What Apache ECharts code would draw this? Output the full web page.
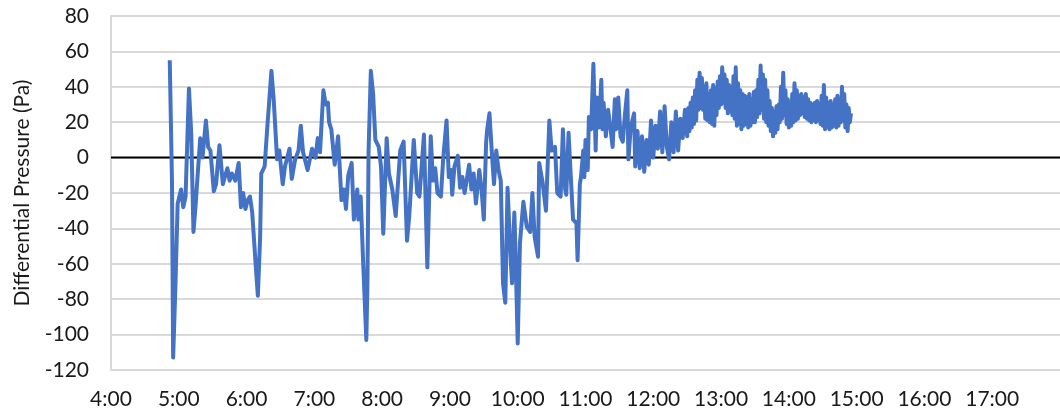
<!DOCTYPE html>
<html>
<head>
<meta charset="utf-8">
<script src="https://cdn.jsdelivr.net/npm/echarts@6/dist/echarts.min.js"></script>
<style>
  html, body { margin: 0; padding: 0; background: #fff; }
  #chart { width: 1060px; height: 419px; }
</style>
</head>
<body>
<div id="chart"></div>
<script>
// readings, time of day -> differential pressure (Pa)
const times = [
  "4:52","4:54","4:55","4:57","4:59","5:02","5:04","5:06","5:09","5:11","5:13","5:15","5:17","5:19","5:21","5:24","5:26","5:28",
  "5:31","5:33","5:36","5:39","5:43","5:45","5:47","5:50","5:53","5:55","5:57","5:59","6:01","6:03","6:05","6:08","6:10","6:12",
  "6:13","6:16","6:18","6:22","6:24","6:27","6:29","6:32","6:34","6:38","6:40","6:43","6:46","6:48","6:50","6:51","6:54","6:56",
  "6:58","7:01","7:03","7:05","7:08","7:10","7:12","7:13","7:15","7:18","7:21","7:24","7:26","7:28","7:30","7:33","7:35","7:38",
  "7:39","7:41","7:43","7:46","7:47","7:48","7:50","7:52","7:54","7:57","7:59","8:01","8:04","8:06","8:09","8:12","8:16","8:19",
  "8:22","8:24","8:28","8:31","8:33","8:35","8:37","8:40","8:43","8:45","8:47","8:49","8:52","8:54","8:57","8:59","9:01","9:02",
  "9:04","9:07","9:09","9:11","9:13","9:15","9:17","9:19","9:21","9:23","9:26","9:28","9:30","9:32","9:33","9:35","9:37","9:39",
  "9:41","9:43","9:45","9:47","9:49","9:51","9:54","9:55","9:57","9:58","10:00","10:02","10:05","10:08","10:11","10:13","10:15","10:18",
  "10:19","10:22","10:25","10:28","10:30","10:33","10:35","10:38","10:40","10:42","10:43","10:45","10:47","10:49","10:52","10:53","10:55","10:56",
  "10:58","10:59","11:00","11:02","11:03","11:05","11:07","11:09","11:10","11:12","11:14","11:15","11:16","11:18","11:20","11:22","11:24","11:26",
  "11:27","11:29","11:31","11:33","11:35","11:37","11:38","11:40","11:43","11:44","11:46","11:48","11:50","11:52","11:54","11:56","11:58","12:00",
  "12:02","12:04","12:06","12:08","12:10","12:12","12:14","12:16","12:18","12:20","12:22","12:24","12:26","12:28",
  "12:30","12:31","12:32","12:33","12:34","12:35","12:36","12:37","12:38","12:39","12:40","12:41","12:42","12:43","12:44","12:45","12:46","12:47",
  "12:48","12:49","12:50","12:51","12:52","12:53","12:54","12:55","12:56","12:57","12:58","12:59","13:00","13:01","13:02","13:03","13:04","13:05",
  "13:06","13:07","13:08","13:09","13:10","13:11","13:12","13:13","13:14","13:15","13:16","13:17","13:18","13:19","13:20","13:21","13:22","13:23",
  "13:24","13:25","13:26","13:27","13:28","13:29","13:30","13:31","13:32","13:33","13:34","13:35","13:36","13:37","13:38","13:39","13:40","13:41",
  "13:42","13:43","13:44","13:45","13:46","13:47","13:48","13:49","13:50","13:51","13:52","13:53","13:54","13:55","13:56","13:57","13:58","13:59",
  "14:00","14:01","14:02","14:03","14:04","14:05","14:06","14:07","14:08","14:09","14:10","14:11","14:12","14:13","14:14","14:15","14:16","14:17",
  "14:18","14:19","14:20","14:21","14:22","14:23","14:24","14:25","14:26","14:27","14:28","14:29","14:30","14:31","14:32","14:33","14:34","14:35",
  "14:36","14:37","14:38","14:39","14:40","14:41","14:42","14:43","14:44","14:45","14:46","14:47","14:48","14:49","14:50","14:51","14:52","14:53",
  "14:54","14:55"
];
const pressure = [
  55,-14,-113,-73,-26,-18,-28,-22,39,14,-42,-26,-7,11,0,21,6,4,
  -19,-15,7,-15,-6,-13,-9,-13,-3,-28,-20,-29,-24,-22,-31,-60,-78,-45,
  -9,-5,14,49,33,-1,4,-15,-5,5,-12,-1,4,18,3,2,-7,-1,
  5,0,11,3,38,30,31,20,16,-4,12,-24,-18,-29,-10,-3,-35,-18,
  -35,-22,-56,-103,-71,4,49,36,10,6,-5,-43,11,-9,-18,-33,4,9,
  -47,-33,10,-20,-22,-5,13,-62,12,-13,-6,-20,-22,-1,21,-11,-7,-21,
  -5,1,-17,-11,-20,-12,-4,-18,-9,-26,-7,-18,-35,8,16,25,4,-15,
  4,-7,-13,-71,-82,-17,-60,-71,-31,-52,-105,-48,-25,-39,-42,-20,-45,-56,
  -3,-14,-30,21,4,6,-20,-22,16,-18,-21,14,-11,-35,-37,-58,-15,-11,
  4,-11,10,-7,23,16,53,4,34,17,44,16,31,12,27,17,6,33,
  16,34,12,9,25,38,-1,17,25,-5,15,-6,12,-8,10,-4,21,0,
  18,5,26,3,29,6,-1,20,3,26,4,22,11,27,
  12,28,15,31,17,34,19,38,21,44,27,48,28,45,27,40,22,42,
  21,36,20,38,19,41,18,39,24,43,28,46,30,51,31,47,28,44,
  25,41,26,40,24,46,22,51,18,42,19,38,16,36,18,35,19,34,
  17,36,18,33,20,37,20,38,23,44,25,52,27,47,22,44,20,38,
  18,32,15,28,12,26,14,29,16,30,20,40,22,48,24,38,19,33,
  17,31,18,36,20,42,21,38,22,35,24,36,25,34,23,36,22,33,
  21,31,20,30,21,31,20,32,21,30,19,35,18,41,16,34,17,31,
  16,32,17,30,18,33,17,35,18,33,20,40,21,36,17,30,15,28,
  20,25
];
const yTicks = { min: -120, max: 80, step: 20 };
const xHours = { first: 4, last: 18 };

function toMinutes(t) {
  const p = t.split(":");
  return Number(p[0]) * 60 + Number(p[1]);
}

const seriesData = times.map((t, i) => [toMinutes(t), pressure[i]]);

const chart = echarts.init(document.getElementById("chart"));
const font = "Lato, 'Liberation Sans', sans-serif";

const option = {
  backgroundColor: "#fff",
  animation: false,
  grid: { left: 111, right: -7, top: 16, bottom: 49 },
  xAxis: {
    type: "value",
    min: xHours.first * 60,
    max: xHours.last * 60,
    interval: 60,
    axisLine: { show: false, onZero: false },
    axisTick: { show: false },
    splitLine: { show: false },
    axisLabel: {
      showMaxLabel: false,
      margin: 19,
      fontFamily: font,
      fontSize: 21,
      color: "#1a1a1a",
      formatter: v => Math.floor(v / 60) + ":00"
    }
  },
  yAxis: {
    type: "value",
    min: yTicks.min,
    max: yTicks.max,
    interval: yTicks.step,
    name: "Differential Pressure (Pa)",
    nameLocation: "middle",
    nameRotate: 90,
    nameGap: 78,
    nameTextStyle: { fontFamily: font, fontSize: 21, color: "#1a1a1a" },
    axisLine: { show: true, lineStyle: { color: "#d9d9d9", width: 2 } },
    axisTick: { show: false },
    axisLabel: { margin: 22, fontFamily: font, fontSize: 21, color: "#1a1a1a" },
    splitLine: { lineStyle: { color: "#d9d9d9", width: 2 } }
  },
  series: [
    {
      // horizontal axis line at 0, drawn under the data
      type: "line",
      silent: true,
      z: 1,
      showSymbol: false,
      data: [[xHours.first * 60, 0], [xHours.last * 60, 0]],
      lineStyle: { color: "#000", width: 2 }
    },
    {
      type: "line",
      z: 3,
      showSymbol: false,
      data: seriesData,
      lineStyle: { color: "#4472C4", width: 4, join: "round" }
    }
  ]
};

chart.setOption(option);
</script>
</body>
</html>
